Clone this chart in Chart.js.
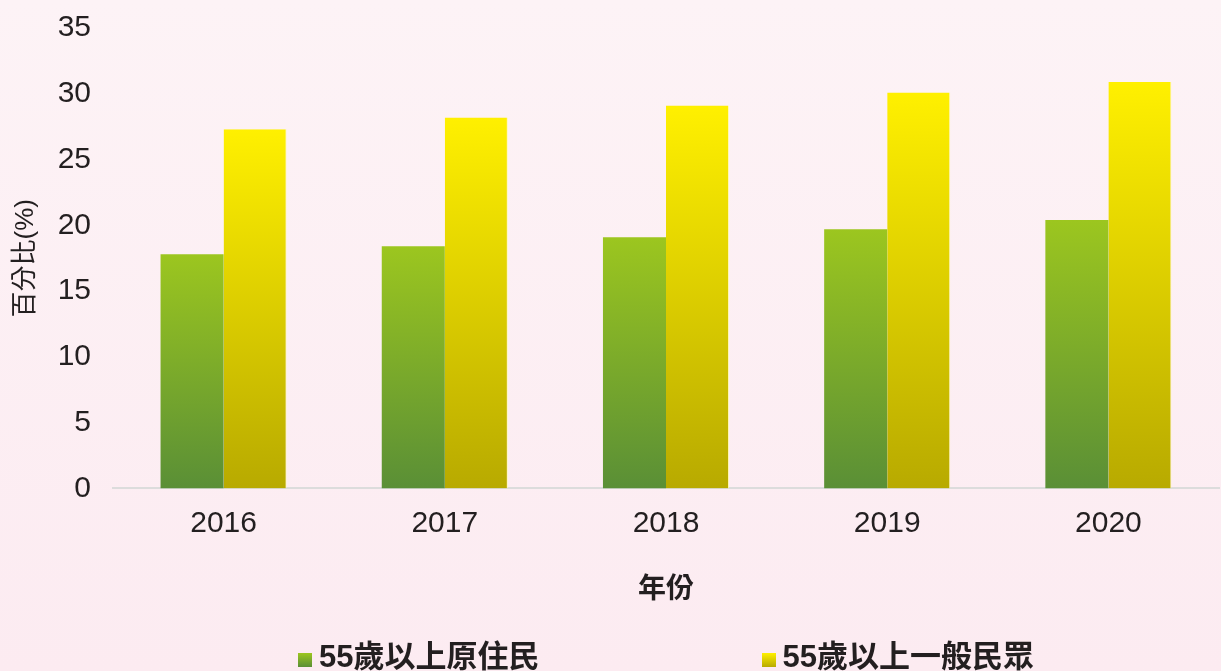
<!DOCTYPE html>
<html>
<head>
<meta charset="utf-8">
<script src="https://cdn.jsdelivr.net/npm/chart.js@4.4.1/dist/chart.umd.min.js"></script>
<style>
  html, body { margin: 0; padding: 0; }
  body {
    width: 1221px; height: 671px; overflow: hidden;
    background: linear-gradient(#fdf3f6, #fcebf1);
    font-family: 'Liberation Sans', 'Noto Sans CJK TC', sans-serif;
  }
  #wrap { position: relative; width: 1221px; height: 671px; }
  #legend {
    position: absolute; left: 113px; width: 1106px; top: 639px;
    display: flex; justify-content: center; gap: 222px;
    font-size: 31px; font-weight: bold; color: #231f20; line-height: 36px;
  }
  #legend .item { display: flex; align-items: center; white-space: nowrap; }
  #legend .box { width: 14px; height: 14px; margin-right: 7px; margin-top: 6px; }
</style>
</head>
<body>
<div id="wrap"><canvas id="chart" width="1221" height="671"></canvas><div id="legend"></div></div>
<script>
const years = ["2016", "2017", "2018", "2019", "2020"];
const indigenous55 = [17.8, 18.4, 19.1, 19.7, 20.4];
const general55 = [27.3, 28.2, 29.1, 30.1, 30.9];
const yTicks = [0, 5, 10, 15, 20, 25, 30, 35];

const FONT = "'Liberation Sans', 'Noto Sans CJK TC', sans-serif";
const TEXT = "#231f20";

const greenStops = ["#9cc61f", "#5a8f36"];
const yellowStops = ["#fff000", "#b8aa00"];

// gradient for each bar, from its own top to the axis
function barGradient(stops) {
  return (context) => {
    const chart = context.chart;
    if (context.type !== "data" || !chart.chartArea) return stops[1];
    const y = chart.scales.y;
    const v = context.dataset.data[context.dataIndex];
    const g = chart.ctx.createLinearGradient(0, y.getPixelForValue(v), 0, y.getPixelForValue(0));
    g.addColorStop(0, stops[0]);
    g.addColorStop(1, stops[1]);
    return g;
  };
}

const datasets = [
  {
    label: "55歲以上原住民",
    data: indigenous55,
    backgroundColor: barGradient(greenStops),
    categoryPercentage: 0.57,
    barPercentage: 1,
  },
  {
    label: "55歲以上一般民眾",
    data: general55,
    backgroundColor: barGradient(yellowStops),
    borderColor: "rgba(255,250,170,0.8)",
    borderWidth: { right: 1 },
    categoryPercentage: 0.57,
    barPercentage: 1,
  },
];

const ctx = document.getElementById("chart").getContext("2d");
new Chart(ctx, {
  type: "bar",
  data: { labels: years, datasets },
  options: {
    responsive: false,
    animation: false,
    layout: { padding: { top: 28, right: 2, left: 0, bottom: 46 } },
    plugins: {
      tooltip: { enabled: false },
      legend: { display: false },
    },
    scales: {
      x: {
        grid: { display: false, drawTicks: false },
        border: { display: true, color: "#dcdcdc", width: 2 },
        ticks: { color: TEXT, font: { family: FONT, size: 30 }, padding: 17 },
        title: {
          display: true,
          text: "年份",
          color: TEXT,
          font: { family: FONT, size: 28, weight: "bold" },
          padding: { top: 15, bottom: 18 },
        },
      },
      y: {
        min: 0,
        max: 35,
        afterBuildTicks: (axis) => { axis.ticks = yTicks.map((v) => ({ value: v })); },
        afterFit: (axis) => {
          axis.width = 113;
          // keep the plot top at the layout padding, not the label padding
          axis.paddingTop = 0;
          axis.paddingBottom = 0;
        },
        grid: { display: false, drawTicks: false },
        border: { display: false },
        ticks: { color: TEXT, font: { family: FONT, size: 30 }, padding: 22, autoSkip: false },
        title: {
          display: true,
          text: "百分比(%)",
          color: TEXT,
          font: { family: FONT, size: 26 },
          padding: { top: 10, bottom: 0 },
        },
      },
    },
  },
});

// legend as html, from the dataset labels
const legend = document.getElementById("legend");
[greenStops, yellowStops].forEach((stops, i) => {
  const item = document.createElement("div");
  item.className = "item";
  const box = document.createElement("span");
  box.className = "box";
  box.style.background = "linear-gradient(" + stops[0] + "," + stops[1] + ")";
  const txt = document.createElement("span");
  txt.textContent = datasets[i].label;
  item.appendChild(box);
  item.appendChild(txt);
  legend.appendChild(item);
});
</script>
</body>
</html>
